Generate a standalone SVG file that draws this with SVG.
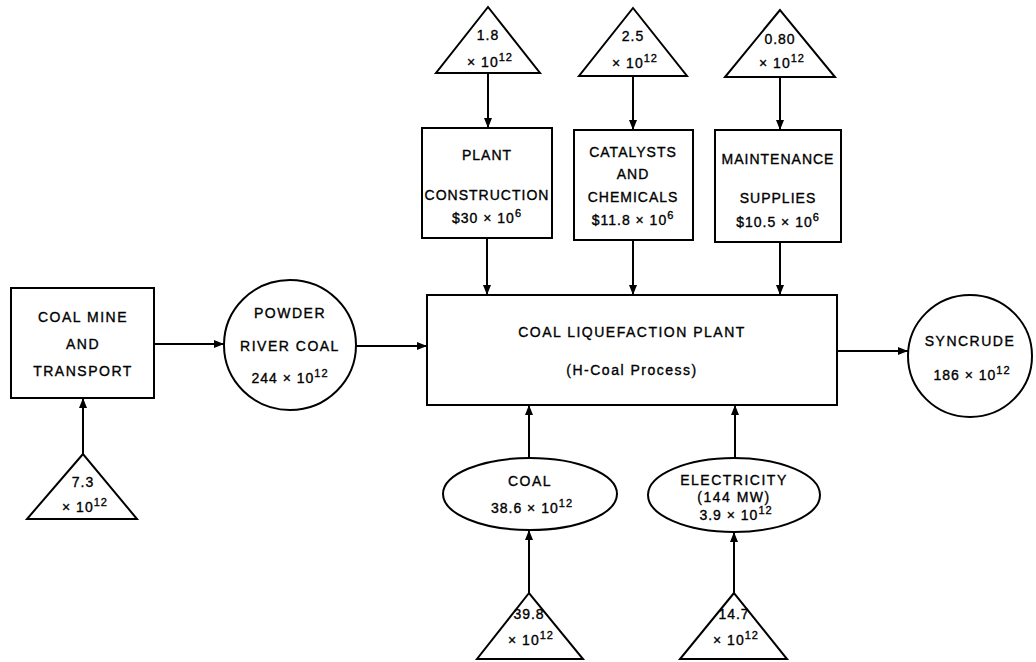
<svg xmlns="http://www.w3.org/2000/svg" width="1036" height="662" viewBox="0 0 1036 662">
<defs>
<marker id="ah" viewBox="0 0 10 8" refX="10" refY="4" markerWidth="10" markerHeight="8" markerUnits="userSpaceOnUse" orient="auto">
<path d="M0,0 L10,4 L0,8 z" fill="#000"/>
</marker>
<style>
.s{fill:#fff;stroke:#000;stroke-width:2}
.t{font-family:"Liberation Sans","DejaVu Sans",sans-serif;font-size:14px;letter-spacing:1px;text-anchor:middle;fill:#000;stroke:#000;stroke-width:0.35px}
.c{fill:none;stroke:#000;stroke-width:2;marker-end:url(#ah)}
.sup{font-size:11px}
</style>
</defs>
<rect width="1036" height="662" fill="#fff"/>
<g id="connectors">
<path class="c" d="M488,73 L488,128"/>
<path class="c" d="M633,76 L633,130"/>
<path class="c" d="M780,77 L780,130"/>
<path class="c" d="M487,238 L487,295"/>
<path class="c" d="M633,240 L633,295"/>
<path class="c" d="M780,242 L780,295"/>
<path class="c" d="M154,344 L224,344"/>
<path class="c" d="M356,346 L427,346"/>
<path class="c" d="M837,351 L908,351"/>
<path class="c" d="M83,454 L83,398"/>
<path class="c" d="M529,458 L529,405"/>
<path class="c" d="M735,458 L735,405"/>
<path class="c" d="M529,593 L529,530"/>
<path class="c" d="M734,593 L734,532"/>
</g>
<g id="tri-plant">
<polygon class="s" points="488,7 436,73 540,73"/>
<text class="t" x="488" y="40">1.8</text>
<text class="t" x="490" y="67">× 10<tspan class="sup" dy="-6">12</tspan></text>
</g>
<g id="tri-catalysts">
<polygon class="s" points="633,8 579,76 687,76"/>
<text class="t" x="633" y="41">2.5</text>
<text class="t" x="635" y="68">× 10<tspan class="sup" dy="-6">12</tspan></text>
</g>
<g id="tri-maintenance">
<polygon class="s" points="780,10 725,77 835,77"/>
<text class="t" x="780" y="44">0.80</text>
<text class="t" x="782" y="68">× 10<tspan class="sup" dy="-6">12</tspan></text>
</g>
<g id="plant-construction">
<rect class="s" x="422" y="128" width="130" height="110"/>
<text class="t" x="487" y="160">PLANT</text>
<text class="t" x="487" y="200">CONSTRUCTION</text>
<text class="t" x="487" y="223">$30 × 10<tspan class="sup" dy="-6">6</tspan></text>
</g>
<g id="catalysts">
<rect class="s" x="574" y="130" width="119" height="110"/>
<text class="t" x="633" y="157">CATALYSTS</text>
<text class="t" x="633" y="179">AND</text>
<text class="t" x="633" y="202">CHEMICALS</text>
<text class="t" x="633" y="225">$11.8 × 10<tspan class="sup" dy="-6">6</tspan></text>
</g>
<g id="maintenance">
<rect class="s" x="715" y="130" width="126" height="112"/>
<text class="t" x="778" y="164">MAINTENANCE</text>
<text class="t" x="778" y="203">SUPPLIES</text>
<text class="t" x="778" y="227">$10.5 × 10<tspan class="sup" dy="-6">6</tspan></text>
</g>
<g id="coal-mine">
<rect class="s" x="11" y="288" width="143" height="110"/>
<text class="t" x="83" y="322" style="letter-spacing:1.5px">COAL MINE</text>
<text class="t" x="83" y="349" style="letter-spacing:1.5px">AND</text>
<text class="t" x="83" y="376" style="letter-spacing:1.5px">TRANSPORT</text>
</g>
<g id="tri-mine">
<polygon class="s" points="83,454 27,519 137,519"/>
<text class="t" x="83" y="487">7.3</text>
<text class="t" x="85" y="512">× 10<tspan class="sup" dy="-6">12</tspan></text>
</g>
<g id="powder-river">
<ellipse class="s" cx="290" cy="345" rx="66" ry="65"/>
<text class="t" x="290" y="318" style="letter-spacing:1.5px">POWDER</text>
<text class="t" x="290" y="351" style="letter-spacing:1.5px">RIVER COAL</text>
<text class="t" x="290" y="383">244 × 10<tspan class="sup" dy="-6">12</tspan></text>
</g>
<g id="liquefaction-plant">
<rect class="s" x="427" y="295" width="410" height="110"/>
<text class="t" x="632" y="337" style="letter-spacing:1.5px">COAL LIQUEFACTION  PLANT</text>
<text class="t" x="632" y="375" style="letter-spacing:1.5px">(H-Coal Process)</text>
</g>
<g id="syncrude">
<ellipse class="s" cx="970" cy="356" rx="62" ry="61"/>
<text class="t" x="970" y="346" style="letter-spacing:1.5px">SYNCRUDE</text>
<text class="t" x="972" y="380">186 × 10<tspan class="sup" dy="-6">12</tspan></text>
</g>
<g id="coal">
<ellipse class="s" cx="530" cy="494" rx="87" ry="36"/>
<text class="t" x="530" y="486" style="letter-spacing:1.5px">COAL</text>
<text class="t" x="532" y="513">38.6 × 10<tspan class="sup" dy="-6">12</tspan></text>
</g>
<g id="electricity">
<ellipse class="s" cx="734" cy="495" rx="86" ry="37"/>
<text class="t" x="734" y="485" style="letter-spacing:1.5px">ELECTRICITY</text>
<text class="t" x="734" y="502" style="letter-spacing:1.5px">(144 MW)</text>
<text class="t" x="736" y="520">3.9 × 10<tspan class="sup" dy="-6">12</tspan></text>
</g>
<g id="tri-coal">
<polygon class="s" points="529,593 477,659 583,659"/>
<text class="t" x="529" y="619">39.8</text>
<text class="t" x="531" y="645">× 10<tspan class="sup" dy="-6">12</tspan></text>
</g>
<g id="tri-electricity">
<polygon class="s" points="734,593 680,659 787,659"/>
<text class="t" x="734" y="619">14.7</text>
<text class="t" x="736" y="645">× 10<tspan class="sup" dy="-6">12</tspan></text>
</g>
</svg>
